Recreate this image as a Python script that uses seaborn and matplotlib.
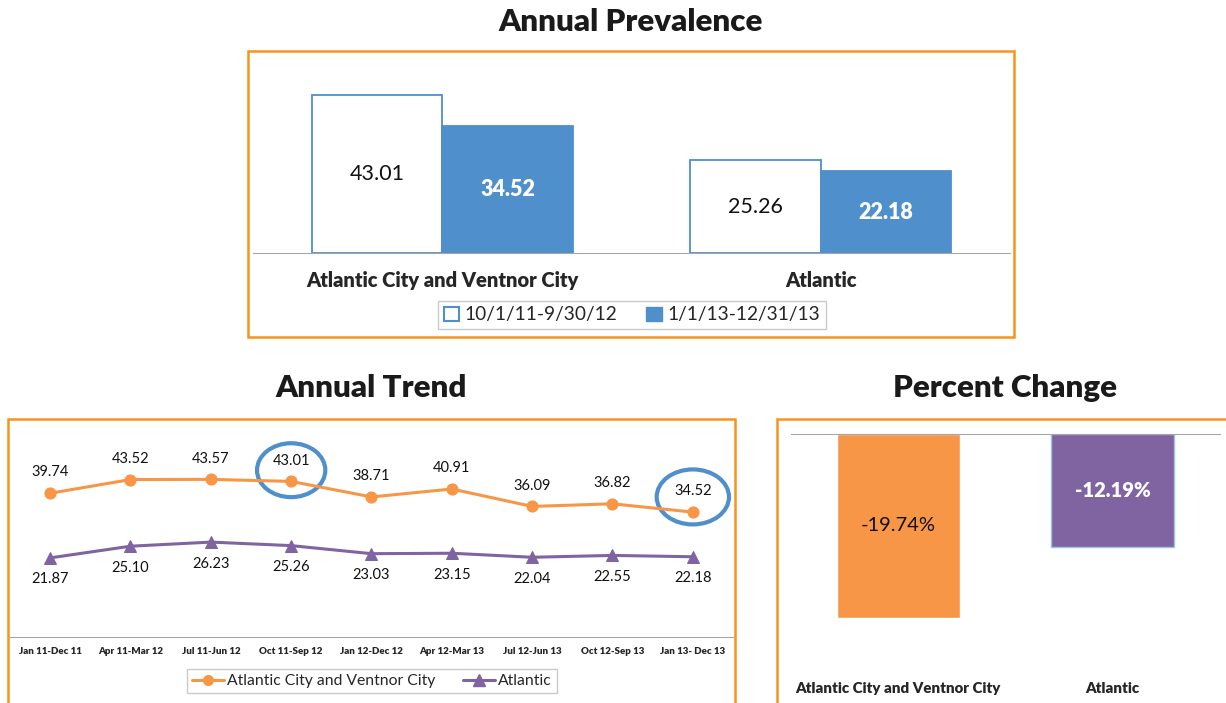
import matplotlib
matplotlib.use("Agg")
import matplotlib.pyplot as plt
from matplotlib.patches import Rectangle, Ellipse, Patch
from matplotlib.lines import Line2D
import seaborn as sns
import pandas as pd

# data
regions = ["Atlantic City and Ventnor City", "Atlantic"]
period_labels = ["10/1/11-9/30/12", "1/1/13-12/31/13"]
prev_before = [43.01, 25.26]
prev_after = [34.52, 22.18]

trend_periods = ["Jan 11-Dec 11", "Apr 11-Mar 12", "Jul 11-Jun 12", "Oct 11-Sep 12",
                 "Jan 12-Dec 12", "Apr 12-Mar 13", "Jul 12-Jun 13", "Oct 12-Sep 13",
                 "Jan 13- Dec 13"]
trend_acvc = [39.74, 43.52, 43.57, 43.01, 38.71, 40.91, 36.09, 36.82, 34.52]
trend_atlantic = [21.87, 25.10, 26.23, 25.26, 23.03, 23.15, 22.04, 22.55, 22.18]
highlight_idx = [3, 8]

pct_change = [-19.74, -12.19]

# colours
ORANGE_FRAME = "#F7941D"
BLUE = "#4F8FCC"
ORANGE = "#F79646"
PURPLE = "#8064A2"
GREY = "#A6A6A6"
BOLD = "heavy"

sns.set_style("white")
plt.rcParams["font.family"] = ["Lato", "DejaVu Sans"]

W, H = 1226, 703
fig = plt.figure(figsize=(W / 100, H / 100), dpi=100)


def rect(x0, y0, x1, y1):
    # pixel box (top-left origin) -> figure fraction
    return [x0 / W, 1 - y1 / H, (x1 - x0) / W, (y1 - y0) / H]


def frame(x0, y0, x1, y1):
    r = rect(x0, y0, x1, y1)
    fig.patches.append(Rectangle((r[0], r[1]), r[2], r[3], transform=fig.transFigure,
                                 fill=False, edgecolor=ORANGE_FRAME, linewidth=1.8))


# orange frames
frame(248, 51, 1014, 337)
frame(8, 419, 735, 720)
frame(777, 419, 1240, 720)

# titles
for x, y, t in [(631, 22, "Annual Prevalence"), (371, 388, "Annual Trend"),
                (1005, 388, "Percent Change")]:
    fig.text(x / W, 1 - y / H, t, ha="center", va="center",
             fontsize=22.5, fontweight=BOLD, color="#1a1a1a")

# ---- Annual Prevalence ----
ax1 = fig.add_axes(rect(253, 69, 1010, 253))
prev_df = pd.DataFrame({
    "region": regions * 2,
    "period": [period_labels[0]] * 2 + [period_labels[1]] * 2,
    "value": prev_before + prev_after,
})
sns.barplot(data=prev_df, x="region", y="value", hue="period",
            palette=["white", BLUE], edgecolor=BLUE, linewidth=1.3, saturation=1,
            width=0.69, gap=0, legend=False, ax=ax1)
ax1.bar_label(ax1.containers[0], fmt="%.2f", label_type="center",
              fontsize=15.5, color="#111111")
ax1.bar_label(ax1.containers[1], fmt="%.2f", label_type="center",
              fontsize=15.5, color="white", fontweight=BOLD)
ax1.set_xlim(-0.5, 1.5)
ax1.set_ylim(0, 50)
ax1.set_xlabel("")
ax1.set_ylabel("")
ax1.set_yticks([])
ax1.tick_params(axis="x", length=0, pad=13, labelsize=14.5)
for lab in ax1.get_xticklabels():
    lab.set_fontweight(BOLD)
for s in ["top", "left", "right"]:
    ax1.spines[s].set_visible(False)
ax1.spines["bottom"].set_color(GREY)
ax1.patch.set_alpha(0)

fig.legend(handles=[Patch(facecolor="white", edgecolor=BLUE, linewidth=1.5, label=period_labels[0]),
                    Patch(facecolor=BLUE, edgecolor=BLUE, label=period_labels[1])],
           loc="center", bbox_to_anchor=(632 / W, 1 - 315 / H), ncol=2,
           fontsize=13.8, frameon=True, fancybox=False, edgecolor="#BFBFBF",
           handlelength=0.8, handleheight=0.8, handletextpad=0.3, columnspacing=1.5,
           borderpad=0.3)

# ---- Annual Trend ----
ax2 = fig.add_axes(rect(10, 425, 733, 637))
sns.lineplot(x=trend_periods, y=trend_acvc, color=ORANGE, marker="o", markersize=8,
             markeredgecolor=ORANGE, linewidth=2.2, sort=False, ax=ax2)
sns.lineplot(x=trend_periods, y=trend_atlantic, color=PURPLE, marker="^", markersize=9,
             markeredgecolor=PURPLE, linewidth=2.2, sort=False, ax=ax2)
for i, v in enumerate(trend_acvc):
    ax2.annotate(f"{v:.2f}", (i, v), xytext=(0, 15), textcoords="offset points",
                 ha="center", va="center", fontsize=10.5, color="#111111")
for i, v in enumerate(trend_atlantic):
    ax2.annotate(f"{v:.2f}", (i, v), xytext=(0, -15.5), textcoords="offset points",
                 ha="center", va="center", fontsize=10.5, color="#111111")
for i, (w, h, dy) in zip(highlight_idx, [(0.85, 14.9, 3.1), (0.9, 15.2, 4.2)]):
    ax2.add_patch(Ellipse((i, trend_acvc[i] + dy), w, h, fill=False,
                          edgecolor=BLUE, linewidth=3))
ax2.set_xlim(-0.5, len(trend_periods) - 0.5)
ax2.set_ylim(0, 58.6)
ax2.set_yticks([])
ax2.tick_params(axis="x", length=0, pad=7, labelsize=7)
for lab in ax2.get_xticklabels():
    lab.set_fontweight(BOLD)
for s in ["top", "left", "right"]:
    ax2.spines[s].set_visible(False)
ax2.spines["bottom"].set_color(GREY)
ax2.patch.set_alpha(0)

fig.legend(handles=[Line2D([], [], color=ORANGE, marker="o", markersize=7, linewidth=2.2,
                           label=regions[0]),
                    Line2D([], [], color=PURPLE, marker="^", markersize=8, linewidth=2.2,
                           label=regions[1])],
           loc="center", bbox_to_anchor=(372 / W, 1 - 681 / H), ncol=2,
           fontsize=11.3, frameon=True, fancybox=False, edgecolor="#BFBFBF",
           handlelength=2.0, handletextpad=0.2, columnspacing=1.8, borderpad=0.35)

# ---- Percent Change ----
ax3 = fig.add_axes(rect(791, 434, 1220, 675))
sns.barplot(x=regions, y=pct_change, hue=regions, palette=[ORANGE, PURPLE],
            saturation=1, width=0.575, legend=False, ax=ax3)
ax3.containers[1][0].set_edgecolor("#9DC3E6")
ax3.bar_label(ax3.containers[0], labels=[f"{pct_change[0]:.2f}%"], label_type="center",
              fontsize=14.5, color="#111111")
ax3.bar_label(ax3.containers[1], labels=[f"{pct_change[1]:.2f}%"], label_type="center",
              fontsize=14.5, color="white", fontweight=BOLD)
ax3.set_xlim(-0.5, 1.5)
ax3.set_ylim(-25.9, 0)
ax3.set_yticks([])
ax3.tick_params(axis="x", length=0, pad=5, labelsize=10.8)
for lab in ax3.get_xticklabels():
    lab.set_fontweight(BOLD)
for s in ["bottom", "left", "right"]:
    ax3.spines[s].set_visible(False)
ax3.spines["top"].set_color(GREY)
ax3.patch.set_alpha(0)

fig.savefig("out.png", dpi=100)
